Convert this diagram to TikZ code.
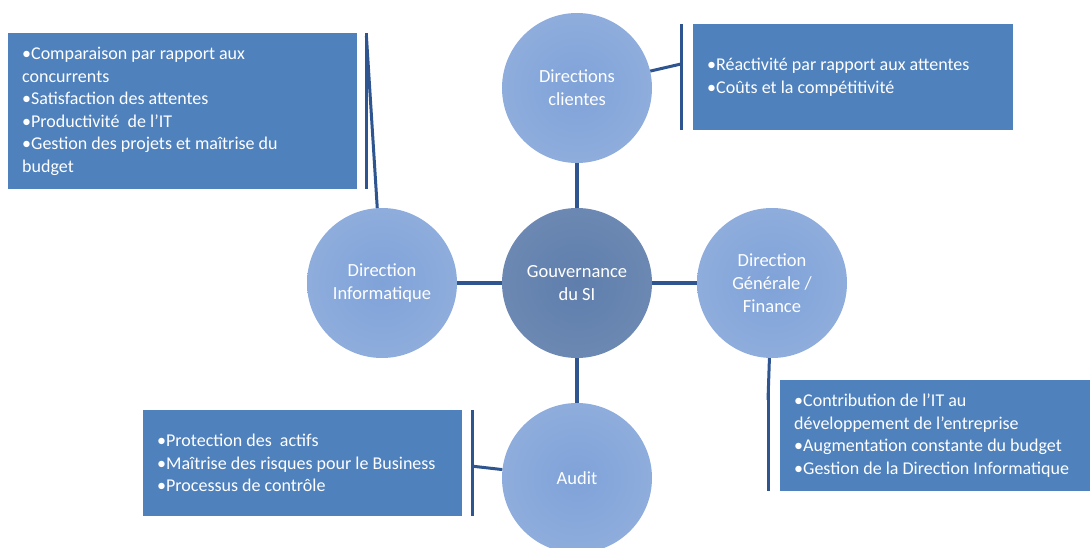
\documentclass[tikz,border=0pt]{standalone}
\usepackage{fontspec}
\setmainfont{Carlito}
\usetikzlibrary{positioning}

\definecolor{boxblue}{HTML}{4F81BD}
\definecolor{ballblue}{HTML}{7FA2D8}
\definecolor{coreblue}{HTML}{5F7EAC}
\definecolor{linkblue}{HTML}{2E5590}

\begin{document}
\begin{tikzpicture}[x=1pt,y=-1pt,on grid,node distance=195pt,
		every node/.style={font=\fontsize{18}{22.5}\selectfont,text=white},
		ball/.style={circle,minimum size=150pt,inner sep=0pt,align=center,
			font=\fontsize{18.5}{23}\selectfont,
			inner color=ballblue,outer color=ballblue!88!white},
		core/.style={ball,inner color=coreblue,outer color=coreblue!92!white},
		infobox/.style={fill=boxblue,inner sep=14pt,align=flush left,anchor=north west},
		link/.style={draw=linkblue,line width=3.5pt},
		bracket/.style={draw=linkblue,line width=3pt}
	]
	\useasboundingbox (0,0) rectangle (1090,548);

	% Circles
	\node[core] (gouv) at (577,283) {Gouvernance\\du SI};
	\node[ball] (clients) [above=of gouv] {Directions\\clientes};
	\node[ball] (info) [left=of gouv] {Direction\\Informatique};
	\node[ball] (finance) [right=of gouv] {Direction\\Générale /\\Finance};
	\node[ball] (audit) [below=of gouv] {Audit};

	\draw[link] (gouv) -- (clients);
	\draw[link] (gouv) -- (info);
	\draw[link] (gouv) -- (finance);
	\draw[link] (gouv) -- (audit);

	% Boxes
	\node[infobox,minimum width=349pt,minimum height=155pt,text width=321pt] (boxInfo) at (8,33)
		{•Comparaison par rapport aux\\concurrents\\•Satisfaction des attentes\\•Productivité~ de l’IT\\•Gestion des projets et maîtrise du\\budget};
	\node[infobox,minimum width=320pt,minimum height=106pt,text width=292pt] (boxClients) at (693,24)
		{•Réactivité par rapport aux attentes\\•Coûts et la compétitivité};
	\node[infobox,minimum width=310pt,minimum height=108pt,text width=300pt] (boxFinance) at (780,380)
		{•Contribution de l’IT au\\développement de l’entreprise\\•Augmentation constante du budget\\•Gestion de la Direction Informatique};
	\node[infobox,minimum width=319pt,minimum height=106pt,text width=291pt] (boxAudit) at (143,410)
		{•Protection des~ actifs\\•Maîtrise des risques pour le Business\\•Processus de contrôle};

	% Brackets
	\draw[bracket] ([xshift=9pt]boxInfo.north east) -- ([xshift=9pt]boxInfo.south east);
	\draw[bracket] ([xshift=-12pt]boxClients.north west) -- ([xshift=-12pt]boxClients.south west);
	\draw[bracket] ([xshift=-12pt]boxFinance.north west) -- ([xshift=-12pt]boxFinance.south west);
	\draw[bracket] ([xshift=10pt]boxAudit.north east) -- ([xshift=10pt]boxAudit.south east);

	\coordinate (brInfo) at ([xshift=9pt,yshift=-3pt]boxInfo.north east);
	\coordinate (brClients) at ([xshift=-12pt,yshift=-40pt]boxClients.north west);
	\coordinate (brFinance) at ([xshift=-12pt,yshift=-20pt]boxFinance.north west);
	\coordinate (brAudit) at ([xshift=10pt,yshift=-3pt]boxAudit.east);

	\draw[bracket] (info) -- (brInfo);
	\draw[bracket] (clients) -- (brClients);
	\draw[bracket] (finance) -- (brFinance);
	\draw[bracket] (audit) -- (brAudit);
\end{tikzpicture}
\end{document}
